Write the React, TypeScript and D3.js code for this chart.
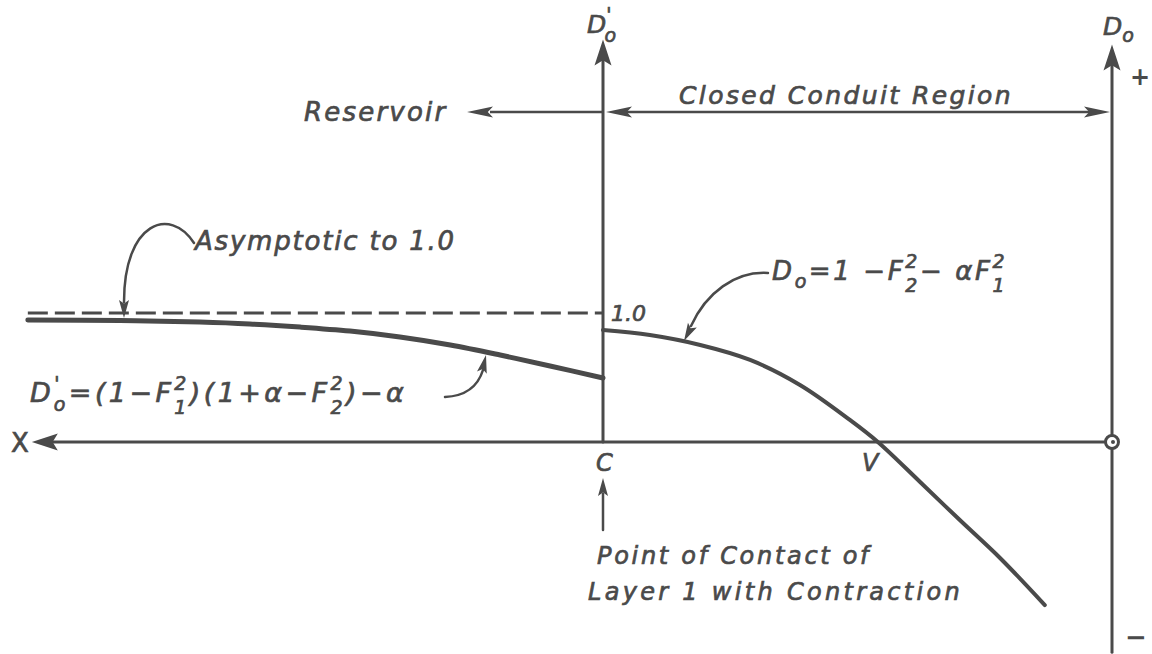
import React from "react";
import * as d3 from "d3";

const W = 1152;
const H = 654;

// Distance from the outlet O, measured toward X (leftward). C sits at distance 1.
const reservoirDist = [2.13, 1.949, 1.792, 1.694, 1.595, 1.497, 1.399, 1.3, 1.202, 1.104, 1.0];
const reservoirDepth = [0.946, 0.942, 0.93, 0.915, 0.891, 0.86, 0.814, 0.752, 0.674, 0.589, 0.496];
const conduitDist = [1.0, 0.908, 0.809, 0.711, 0.613, 0.515, 0.46, 0.377, 0.299, 0.22, 0.132];
const conduitDepth = [0.868, 0.829, 0.752, 0.636, 0.442, 0.171, 0, -0.31, -0.605, -0.899, -1.264];
const asymptoteValue = 1.0;
const contactDist = 1.0;
const axisTop = 3.12;
const axisBottom = -1.63;
const axisFarLeft = 2.13;

const INK = "#4a4a4a";
const FONT = "'DejaVu Sans', sans-serif";

const x = d3.scaleLinear().domain([0, 1]).range([1112, 603]);
const y = d3.scaleLinear().domain([0, 1]).range([442, 313]);

type Pt = [number, number];

function head(tip: Pt, from: Pt, len: number, half: number): string {
  const dx = tip[0] - from[0];
  const dy = tip[1] - from[1];
  const m = Math.hypot(dx, dy) || 1;
  const ux = dx / m;
  const uy = dy / m;
  const bx = tip[0] - ux * len;
  const by = tip[1] - uy * len;
  const nx = -uy;
  const ny = ux;
  const p = d3.path();
  p.moveTo(tip[0], tip[1]);
  p.lineTo(bx + nx * half, by + ny * half);
  p.lineTo(tip[0] - ux * len * 0.8, tip[1] - uy * len * 0.8);
  p.lineTo(bx - nx * half, by - ny * half);
  p.closePath();
  return p.toString();
}

export default function App() {
  const smooth = d3
    .line<[number, number]>()
    .x((d) => x(d[0]))
    .y((d) => y(d[1]))
    .curve(d3.curveCatmullRom.alpha(0.5));

  const reservoir = reservoirDist.map((d, i) => [d, reservoirDepth[i]] as [number, number]);
  const conduit = conduitDist.map((d, i) => [d, conduitDepth[i]] as [number, number]);

  const cx = x(contactDist);
  const ox = x(0);
  const oy = y(0);
  const topY = y(axisTop);
  const botY = y(axisBottom);
  const leftX = x(axisFarLeft);
  const regionY = 112;

  const txt = {
    fontFamily: FONT,
    fontStyle: "italic" as const,
    fill: INK,
    stroke: INK,
    strokeWidth: 0.7,
  };

  return (
    <svg
      width={W}
      height={H}
      viewBox={`0 0 ${W} ${H}`}
      style={{ position: "absolute", left: 0, top: 0, background: "#fff" }}
    >
      <rect width={W} height={H} fill="#fff" />

      {/* axes */}
      <g stroke={INK} strokeWidth={3} fill="none" strokeLinecap="round">
        <line x1={cx} y1={oy} x2={cx} y2={topY + 18} />
        <line x1={ox} y1={botY} x2={ox} y2={topY + 22} />
        <line x1={ox - 7} y1={oy} x2={leftX + 20} y2={oy} />
      </g>
      <g fill={INK}>
        <path d={head([cx, topY], [cx, oy], 26, 8.5)} />
        <path d={head([ox, topY + 5], [ox, oy], 26, 8.5)} />
        <path d={head([leftX + 4, oy], [ox, oy], 26, 8.5)} />
      </g>
      <circle cx={ox} cy={oy} r={6.5} fill="#fff" stroke={INK} strokeWidth={3} />
      <circle cx={ox + 1} cy={oy} r={2} fill={INK} />

      {/* asymptote */}
      <line
        x1={leftX}
        y1={y(asymptoteValue)}
        x2={cx}
        y2={y(asymptoteValue)}
        stroke={INK}
        strokeWidth={3}
        strokeDasharray="20 7"
      />

      {/* depth curves */}
      <path d={smooth(reservoir) ?? ""} fill="none" stroke={INK} strokeWidth={5} strokeLinecap="round" />
      <path d={smooth(conduit) ?? ""} fill="none" stroke={INK} strokeWidth={4} strokeLinecap="round" />

      {/* region arrows */}
      <g stroke={INK} strokeWidth={2.5} fill="none">
        <line x1={cx} y1={regionY} x2={490} y2={regionY} />
        <line x1={cx + 20} y1={regionY} x2={ox - 20} y2={regionY} />
      </g>
      <g fill={INK}>
        <path d={head([467, regionY], [cx, regionY], 26, 5.5)} />
        <path d={head([cx + 3, regionY], [ox, regionY], 26, 5.5)} />
        <path d={head([ox - 2, regionY], [cx, regionY], 26, 5.5)} />
      </g>
      <text x={304} y={121} fontSize={26} letterSpacing={2.2} {...txt}>
        Reservoir
      </text>
      <text x={679} y={104} fontSize={25} letterSpacing={2.4} {...txt}>
        Closed Conduit Region
      </text>

      {/* callouts */}
      <g stroke={INK} strokeWidth={2.5} fill="none" strokeLinecap="round">
        <path d="M194,243 C170,206 124,222 124,302" />
        <path d="M445,397 C466,396 478,386 483,370" />
        <path d="M768,273 C735,271 706,293 691,326" />
        <line x1={cx} y1={530} x2={cx} y2={494} />
      </g>
      <g fill={INK}>
        <path d={head([124, 318], [124, 290], 18, 5)} />
        <path d={head([486, 355], [482, 372], 18, 5)} />
        <path d={head([684, 341], [694, 322], 18, 5)} />
        <path d={head([cx, 478], [cx, 520], 18, 5)} />
      </g>

      <text x={195} y={250} fontSize={26} letterSpacing={1.8} {...txt}>
        Asymptotic to 1.0
      </text>

      {/* D'o formula */}
      <text x={30} y={402} fontSize={27} letterSpacing={3.4} {...txt}>
        D
        <tspan dy={-12} fontSize={19}>'</tspan>
        <tspan dx={-9} dy={21} fontSize={19}>o</tspan>
        <tspan dy={-9}>=</tspan>
        <tspan>(1−F</tspan>
        <tspan dy={-12} fontSize={19}>2</tspan>
        <tspan dx={-15.5} dy={24} fontSize={19}>1</tspan>
        <tspan dy={-12}>)(1+α−F</tspan>
        <tspan dy={-12} fontSize={19}>2</tspan>
        <tspan dx={-15.5} dy={24} fontSize={19}>2</tspan>
        <tspan dy={-12}>)−α</tspan>
      </text>

      {/* Do formula */}
      <text x={772} y={280} fontSize={26} letterSpacing={2.6} {...txt}>
        D
        <tspan dy={8} fontSize={19}>o</tspan>
        <tspan dy={-8}>=1 −F</tspan>
        <tspan dy={-12} fontSize={19}>2</tspan>
        <tspan dx={-14.7} dy={24} fontSize={19}>2</tspan>
        <tspan dy={-12}>− αF</tspan>
        <tspan dy={-12} fontSize={19}>2</tspan>
        <tspan dx={-14.7} dy={24} fontSize={19}>1</tspan>
      </text>

      <text x={611} y={321} fontSize={22} {...txt}>
        1.0
      </text>

      {/* axis labels */}
      <text x={587} y={33} fontSize={25} {...txt}>
        D
        <tspan dy={-12} fontSize={19}>'</tspan>
        <tspan dx={-7} dy={21} fontSize={19}>o</tspan>
      </text>
      <text x={1103} y={35} fontSize={25} {...txt}>
        D
        <tspan dy={7} fontSize={19}>o</tspan>
      </text>
      <text x={1130} y={85} fontSize={24} fontFamily={FONT} fill={INK} fontWeight="bold">
        +
      </text>
      <text x={1125} y={646} fontSize={26} fontFamily={FONT} fill={INK} fontWeight="bold">
        −
      </text>
      <text x={11} y={452} fontSize={26} fontFamily={FONT} fill={INK} stroke={INK} strokeWidth={0.7}>
        X
      </text>
      <text x={596} y={471} fontSize={24} {...txt}>
        C
      </text>
      <text x={862} y={471} fontSize={24} {...txt}>
        V
      </text>

      <text x={597} y={564} fontSize={24} letterSpacing={2.7} {...txt}>
        Point of Contact of
      </text>
      <text x={588} y={600} fontSize={24} letterSpacing={3.3} {...txt}>
        Layer 1 with Contraction
      </text>
    </svg>
  );
}
